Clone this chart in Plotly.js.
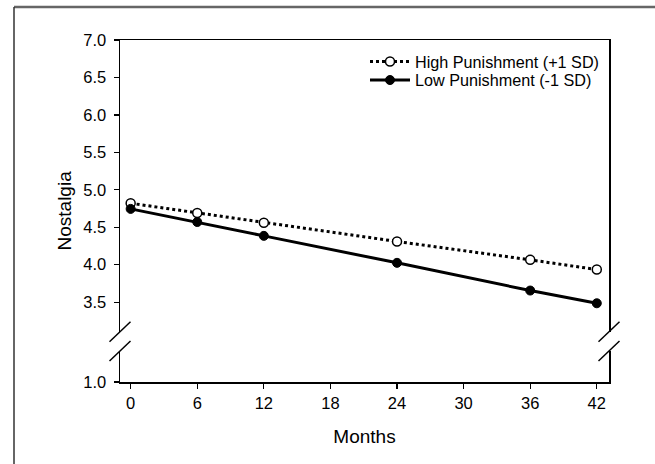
<!DOCTYPE html>
<html>
<head>
<meta charset="utf-8">
<script src="https://cdn.plot.ly/plotly-3.0.1.min.js"></script>
<style>html,body{margin:0;padding:0;background:#fff;}#chart{width:655px;height:464px;}</style>
</head>
<body>
<div id="chart"></div>
<script>
const months = [0, 6, 12, 24, 36, 42];
const highPunishment = [4.82, 4.69, 4.56, 4.31, 4.065, 3.935];
const lowPunishment = [4.745, 4.57, 4.385, 4.025, 3.655, 3.485];
const seriesNames = ["High Punishment (+1 SD)", "Low Punishment (-1 SD)"];
const xTicks = [0, 6, 12, 18, 24, 30, 36, 42];
const yTicksUpper = [3.5, 4.0, 4.5, 5.0, 5.5, 6.0, 6.5, 7.0];
const yTicksLower = [1.0];

const W = 655, H = 464;
const M = {l: 120, r: 46, t: 40, b: 82};
const PW = W - M.l - M.r, PH = H - M.t - M.b;
const px = v => (v - M.l) / PW;
const py = v => (H - M.b - v) / PH;

const breakHi = py(331.7), breakLo = py(351);
const upperBottomVal = 7.0 - (1 - breakHi) * PH / 74.9;
const lowerTopVal = 1.0 + breakLo * PH / 74.9;

const font = "'Liberation Sans', Arial, sans-serif";

const traces = [
  {x: months, y: highPunishment, name: seriesNames[0], xaxis: 'x2', yaxis: 'y', mode: 'lines+markers', legend: 'legend',
   line: {color: '#000', width: 3, dash: 'dot'},
   marker: {symbol: 'circle', size: 9, color: '#fff', line: {color: '#000', width: 1.5}}},
  {x: months, y: lowPunishment, name: seriesNames[1], xaxis: 'x2', yaxis: 'y', mode: 'lines+markers', legend: 'legend2',
   line: {color: '#000', width: 3, dash: 'solid'},
   marker: {symbol: 'circle', size: 9, color: '#000', line: {color: '#000', width: 1}}},
  {x: [], y: [], xaxis: 'x', yaxis: 'y2', showlegend: false, hoverinfo: 'skip'}
];

const dx = 10.5 / PW, dy = 10 / PH;
const shapes = [];
[0, 1].forEach(xc => {
  [breakHi, breakLo].forEach(yc => {
    shapes.push({type: 'line', xref: 'paper', yref: 'paper', x0: xc - dx, y0: yc - dy, x1: xc + dx, y1: yc + dy,
      line: {color: '#000', width: 1.5}});
  });
});
// outer frame (top and left edges)
shapes.push({type: 'line', xref: 'paper', yref: 'paper', x0: px(14), y0: py(7), x1: px(W + 5), y1: py(7), line: {color: '#666', width: 2.5}});
shapes.push({type: 'line', xref: 'paper', yref: 'paper', x0: px(14), y0: py(7), x1: px(14), y1: py(H + 5), line: {color: '#333', width: 1.5}});

const xRange = [-0.96, 43.1];
const axCommon = {showgrid: false, zeroline: false, showline: true, linecolor: '#000', linewidth: 1.5,
  tickfont: {family: font, size: 16.5, color: '#000'}, ticks: 'outside', tickcolor: '#000', tickwidth: 1.2, ticklen: 5};

const legendCommon = {xanchor: 'left', yanchor: 'top', font: {family: font, size: 16.2, color: '#000'},
  bgcolor: 'rgba(0,0,0,0)', borderwidth: 0, itemwidth: 40};

const layout = {
  width: W, height: H, margin: M, paper_bgcolor: '#fff', plot_bgcolor: '#fff',
  font: {family: font, color: '#000'},
  showlegend: true,
  legend: Object.assign({}, legendCommon, {x: px(365), y: py(44.5)}),
  legend2: Object.assign({}, legendCommon, {x: px(365), y: py(63)}),
  xaxis: Object.assign({}, axCommon, {anchor: 'y2', domain: [0, 1], range: xRange, tickvals: xTicks,
    ticktext: xTicks.map(String), ticklabelstandoff: 1,
    title: {text: 'Months', font: {family: font, size: 19, color: '#000'}, standoff: 18}}),
  xaxis2: {anchor: 'y', side: 'top', range: xRange, showline: true, linecolor: '#000', linewidth: 1.5,
    showgrid: false, zeroline: false, ticks: '', showticklabels: false},
  yaxis: Object.assign({}, axCommon, {anchor: 'x2', domain: [breakHi, 1], range: [upperBottomVal, 7.0],
    tickvals: yTicksUpper, ticktext: yTicksUpper.map(v => v.toFixed(1)), mirror: true, ticklabelstandoff: 4}),
  yaxis2: Object.assign({}, axCommon, {anchor: 'x', domain: [0, breakLo], range: [1.0, lowerTopVal],
    tickvals: yTicksLower, ticktext: yTicksLower.map(v => v.toFixed(1)), mirror: true, ticklabelstandoff: 4}),
  annotations: [{text: 'Nostalgia', xref: 'paper', yref: 'paper', x: px(63.5), y: py(211), textangle: -90,
    showarrow: false, xanchor: 'center', yanchor: 'middle', font: {family: font, size: 19, color: '#000'}}],
  shapes: shapes
};

Plotly.newPlot('chart', traces, layout, {displayModeBar: false, staticPlot: true});
</script>
</body>
</html>
